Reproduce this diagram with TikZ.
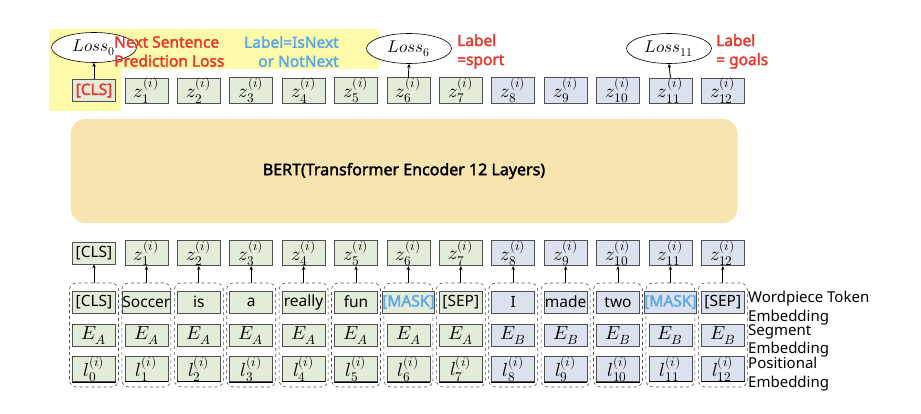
\documentclass[tikz,border=0pt]{standalone}
\usepackage{fontspec}
\usepackage{unicode-math}
\setmainfont{Noto Sans}[AutoFakeBold=2.2]
\setmathfont{Latin Modern Math}
\usetikzlibrary{arrows.meta,shapes.geometric}
\definecolor{gfill}{HTML}{E3EBD9}
\definecolor{bfill}{HTML}{DCE1F0}
\definecolor{hl}{HTML}{FDFBAA}
\definecolor{bertc}{HTML}{F7E4AE}
\definecolor{myred}{HTML}{E8382E}
\definecolor{myblue}{HTML}{5AA8E8}
\definecolor{bord}{HTML}{505050}
\begin{document}
\begin{tikzpicture}[x=1pt,y=-1pt,
  tok/.style={draw=bord, line width=0.7pt, minimum width=43pt, minimum height=22pt, inner sep=0pt, font=\fontsize{15.5}{15.5}\selectfont},
  mtok/.style={tok, font=\fontsize{19}{19}\selectfont},
  grp/.style={draw=bord, dashed, line width=0.6pt, rounded corners=7pt, minimum width=49pt, minimum height=104pt, inner sep=0pt},
  arr/.style={-{Stealth[length=4pt,width=3.5pt]}, line width=0.9pt, black},
  lossell/.style={ellipse, draw=black, fill=white, line width=0.6pt, minimum width=85pt, minimum height=30pt, inner sep=0pt, font=\fontsize{17}{17}\selectfont},
  redlab/.style={text=myred, font=\bfseries\fontsize{15.5}{19}\selectfont, align=left, inner sep=0pt},
  bluelab/.style={text=myblue, font=\bfseries\fontsize{15.5}{19}\selectfont, align=right, inner sep=0pt},
  sidelab/.style={font=\fontsize{15}{15}\selectfont, anchor=base west, inner sep=0pt}
]
\useasboundingbox (0,0) rectangle (921,414);
% highlight
\fill[hl] (49,29) -- (379,29) -- (379,69) -- (121,69) -- (121,111) -- (49,111) -- cycle;
% BERT
\node[fill=bertc, rounded corners=15pt, minimum width=667pt, minimum height=104pt, inner sep=0pt,
      font=\bfseries\fontsize{16}{16}\selectfont] (bert) at (404,171) {BERT(Transformer Encoder 12 Layers)};
% upper output row
\node[tok, fill=gfill, text=myred, font=\bfseries\fontsize{15.5}{15.5}\selectfont] (u0) at (94,90.5) {[CLS]};
\foreach \i in {1,...,12}{
  \ifnum\i<8 \def\fc{gfill}\else\def\fc{bfill}\fi
  \node[mtok, fill=\fc] (u\i) at ({94+52.4*\i},90.5) {$z_{\i}^{(i)}$};
}
% losses
\node[lossell] (L0) at (94,47.5) {$Loss_0$};
\node[lossell] (L6) at (409,48.5) {$Loss_6$};
\node[lossell] (L11) at (669,48.5) {$Loss_{11}$};
\draw[arr] (u0.north) -- (L0.south);
\draw[arr] (u6.north) -- (L6.south);
\draw[arr] (u11.north) -- (L11.south);
% labels
\node[redlab, anchor=west] (nsp) at (114,51.5) {Next Sentence\\Prediction Loss};
\node[bluelab, anchor=east] (isn) at (339,51.5) {Label=IsNext\\or NotNext};
\node[redlab, anchor=west] (sp) at (457,51.5) {Label\\=sport};
\node[redlab, anchor=west] (gl) at (716,51.5) {Label\\= goals};
% lower output row
\node[tok, fill=gfill] (t0) at (94,253) {[CLS]};
\foreach \i in {1,...,12}{
  \ifnum\i<8 \def\fc{gfill}\else\def\fc{bfill}\fi
  \node[mtok, fill=\fc] (t\i) at ({94+52.4*\i},253) {$z_{\i}^{(i)}$};
}
% input columns
\foreach \i/\w in {0/{[CLS]},1/Soccer,2/is,3/a,4/really,5/fun,6/{\textcolor{myblue}{\bfseries[MASK]}},7/{[SEP]},8/I,9/made,10/two,11/{\textcolor{myblue}{\bfseries[MASK]}},12/{[SEP]}}{
  \ifnum\i<8 \def\fc{gfill}\def\sg{A}\else\def\fc{bfill}\def\sg{B}\fi
  \node[grp] (g\i) at ({94+52.4*\i},335) {};
  \node[tok, fill=\fc] (w\i) at ({94+52.4*\i},302) {\w};
  \node[mtok, fill=\fc] (e\i) at ({94+52.4*\i},335.5) {$E_{\sg}$};
  \node[mtok, fill=\fc] (p\i) at ({94+52.4*\i},369) {$l_{\i}^{(i)}$};
  \draw[line width=1pt, black] (p\i.south west) -- (p\i.south east);
  \draw[arr] (g\i.north) -- (t\i.south);
}
% side labels
\node[sidelab] (s1) at (748,302) {Wordpiece Token};
\node[sidelab] (s2) at (748,321) {Embedding};
\node[sidelab] (s3) at (748,335) {Segment};
\node[sidelab] (s4) at (748,353) {Embedding};
\node[sidelab] (s5) at (748,368) {Positional};
\node[sidelab] (s6) at (748,387) {Embedding};
\end{tikzpicture}
\end{document}
